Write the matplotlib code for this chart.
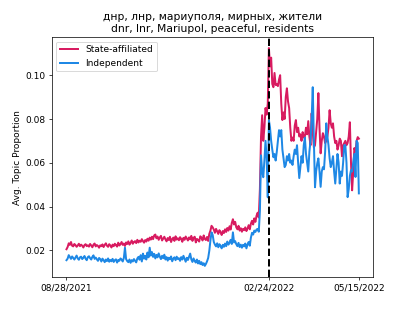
import numpy as np
import pandas as pd
import matplotlib
matplotlib.use("Agg")
import matplotlib.pyplot as plt
import matplotlib.dates as mdates

# --- data (one value per day) ---
start_date = "2021-08-28"
end_date = "2022-05-15"
invasion_date = "2022-02-24"

title_ru = "днр, лнр, мариуполя, мирных, жители"
title_en = "dnr, lnr, Mariupol, peaceful, residents"
series_names = ["State-affiliated", "Independent"]

state_affiliated = [
    0.0205, 0.0215, 0.0232, 0.0225, 0.0238, 0.0221, 0.0218, 0.0229, 0.0224, 0.0216,
    0.0222, 0.0230, 0.0219, 0.0226, 0.0221, 0.0213, 0.0224, 0.0228, 0.0219, 0.0223,
    0.0217, 0.0229, 0.0222, 0.0214, 0.0226, 0.0231, 0.0218, 0.0224, 0.0220, 0.0212,
    0.0223, 0.0219, 0.0227, 0.0215, 0.0225, 0.0232, 0.0221, 0.0216, 0.0228, 0.0222,
    0.0213, 0.0226, 0.0219, 0.0230, 0.0224, 0.0217, 0.0235, 0.0222, 0.0228, 0.0238,
    0.0225, 0.0231, 0.0220, 0.0236, 0.0229, 0.0241, 0.0226, 0.0234, 0.0245, 0.0230,
    0.0238, 0.0242, 0.0233, 0.0248, 0.0236, 0.0244, 0.0239, 0.0251, 0.0242, 0.0235,
    0.0247, 0.0240, 0.0253, 0.0244, 0.0258, 0.0249, 0.0262, 0.0251, 0.0268, 0.0272,
    0.0255, 0.0263, 0.0248, 0.0259, 0.0266, 0.0245, 0.0254, 0.0262, 0.0250, 0.0241,
    0.0256, 0.0247, 0.0262, 0.0238, 0.0251, 0.0258, 0.0243, 0.0264, 0.0249, 0.0255,
    0.0246, 0.0260, 0.0252, 0.0239, 0.0257, 0.0248, 0.0263, 0.0254, 0.0245, 0.0259,
    0.0250, 0.0266, 0.0243, 0.0257, 0.0262, 0.0236, 0.0252, 0.0248, 0.0240, 0.0264,
    0.0258, 0.0245, 0.0268, 0.0252, 0.0247, 0.0261, 0.0243, 0.0275, 0.0290, 0.0312,
    0.0305, 0.0295, 0.0280, 0.0298, 0.0286, 0.0275, 0.0292, 0.0283, 0.0270, 0.0288,
    0.0279, 0.0296, 0.0284, 0.0302, 0.0290, 0.0310, 0.0295, 0.0325, 0.0342, 0.0318,
    0.0330, 0.0305, 0.0296, 0.0312, 0.0290, 0.0301, 0.0285, 0.0298, 0.0292, 0.0305,
    0.0288, 0.0300, 0.0315, 0.0296, 0.0322, 0.0335, 0.0318, 0.0346, 0.0330, 0.0358,
    0.0372, 0.0350, 0.0480, 0.0720, 0.0817, 0.0700, 0.0760, 0.0850, 0.0820, 0.0870,
    0.1124, 0.1040, 0.1080, 0.0960, 0.0945, 0.1010, 0.0955, 0.0960, 0.0950, 0.0980,
    0.1000, 0.0870, 0.0795, 0.0830, 0.0800, 0.0900, 0.0940, 0.0880, 0.0850, 0.0760,
    0.0700, 0.0715, 0.0700, 0.0770, 0.0795, 0.0740, 0.0760, 0.0720, 0.0730, 0.0700,
    0.0740, 0.0715, 0.0720, 0.0760, 0.0730, 0.0790, 0.0720, 0.0680, 0.0826, 0.0740,
    0.0670, 0.0680, 0.0740, 0.0800, 0.0918, 0.0760, 0.0643, 0.0700, 0.0735, 0.0720,
    0.0690, 0.0700, 0.0720, 0.0760, 0.0840, 0.0780, 0.0760, 0.0780, 0.0720, 0.0690,
    0.0700, 0.0660, 0.0680, 0.0710, 0.0700, 0.0630, 0.0680, 0.0690, 0.0700, 0.0680,
    0.0690, 0.0720, 0.0785, 0.0600, 0.0474, 0.0560, 0.0667, 0.0650, 0.0700, 0.0717,
    0.0710,
]

independent = [
    0.0155, 0.0162, 0.0178, 0.0169, 0.0161, 0.0172, 0.0165, 0.0158, 0.0167, 0.0176,
    0.0163, 0.0157, 0.0168, 0.0171, 0.0160, 0.0166, 0.0174, 0.0162, 0.0155, 0.0169,
    0.0173, 0.0164, 0.0158, 0.0170, 0.0177, 0.0161, 0.0167, 0.0159, 0.0152, 0.0165,
    0.0160, 0.0149, 0.0162, 0.0155, 0.0146, 0.0158, 0.0151, 0.0163, 0.0148, 0.0156,
    0.0150, 0.0161, 0.0147, 0.0155, 0.0159, 0.0144, 0.0156, 0.0152, 0.0163, 0.0158,
    0.0149, 0.0165, 0.0212, 0.0160, 0.0151, 0.0146, 0.0158, 0.0143, 0.0155, 0.0149,
    0.0160, 0.0152, 0.0145, 0.0163, 0.0170, 0.0157, 0.0178, 0.0149, 0.0185, 0.0162,
    0.0175, 0.0158, 0.0190, 0.0168, 0.0212, 0.0176, 0.0192, 0.0170, 0.0184, 0.0163,
    0.0179, 0.0168, 0.0186, 0.0171, 0.0160, 0.0175, 0.0164, 0.0180, 0.0158, 0.0169,
    0.0153, 0.0166, 0.0159, 0.0172, 0.0150, 0.0162, 0.0168, 0.0155, 0.0171, 0.0160,
    0.0164, 0.0152, 0.0169, 0.0158, 0.0175, 0.0161, 0.0148, 0.0166, 0.0156, 0.0170,
    0.0185, 0.0159, 0.0147, 0.0163, 0.0151, 0.0144, 0.0158, 0.0140, 0.0152, 0.0137,
    0.0146, 0.0133, 0.0141, 0.0129, 0.0138, 0.0150, 0.0165, 0.0198, 0.0245, 0.0282,
    0.0270, 0.0238, 0.0226, 0.0218, 0.0232, 0.0214, 0.0228, 0.0220, 0.0209, 0.0225,
    0.0216, 0.0231, 0.0219, 0.0240, 0.0226, 0.0235, 0.0248, 0.0229, 0.0282, 0.0236,
    0.0242, 0.0228, 0.0219, 0.0234, 0.0215, 0.0226, 0.0212, 0.0225, 0.0218, 0.0231,
    0.0209, 0.0227, 0.0238, 0.0221, 0.0258, 0.0280, 0.0272, 0.0290, 0.0284, 0.0295,
    0.0298, 0.0285, 0.0380, 0.0634, 0.0560, 0.0534, 0.0610, 0.0700, 0.0620, 0.0442,
    0.0794, 0.0760, 0.0700, 0.0660, 0.0625, 0.0640, 0.0610, 0.0650, 0.0700, 0.0749,
    0.0720, 0.0749, 0.0660, 0.0620, 0.0580, 0.0590, 0.0630, 0.0610, 0.0640, 0.0600,
    0.0610, 0.0590, 0.0630, 0.0660, 0.0640, 0.0680, 0.0600, 0.0530, 0.0580, 0.0630,
    0.0600, 0.0680, 0.0715, 0.0640, 0.0600, 0.0560, 0.0650, 0.0700, 0.0800, 0.0945,
    0.0700, 0.0488, 0.0560, 0.0597, 0.0620, 0.0560, 0.0490, 0.0560, 0.0580, 0.0570,
    0.0650, 0.0780, 0.0720, 0.0680, 0.0620, 0.0580, 0.0600, 0.0630, 0.0560, 0.0505,
    0.0570, 0.0640, 0.0600, 0.0505, 0.0560, 0.0540, 0.0600, 0.0680, 0.0680, 0.0600,
    0.0443, 0.0480, 0.0540, 0.0566, 0.0560, 0.0600, 0.0640, 0.0535, 0.0700, 0.0690,
    0.0460,
]

dates = pd.date_range(start_date, end_date, freq="D")

# --- plot ---
fig, ax = plt.subplots(figsize=(6.4, 4.8), dpi=64.84)

ax.plot(dates, state_affiliated, color="#d81b60", lw=2.2, label=series_names[0])
ax.plot(dates, independent, color="#1e88e5", lw=2.2, label=series_names[1])
ax.axvline(pd.Timestamp(invasion_date), color="black", ls="--", lw=2.2)

tick_dates = [pd.Timestamp(start_date), pd.Timestamp(invasion_date), pd.Timestamp(end_date)]
ax.set_xticks(tick_dates)
ax.xaxis.set_major_formatter(mdates.DateFormatter("%m/%d/%Y"))

ax.set_ylabel("Avg. Topic Proportion")
ax.set_title(title_ru + "\n" + title_en)
ax.legend(loc="upper left")

plt.savefig("out.png", dpi=64.84)
